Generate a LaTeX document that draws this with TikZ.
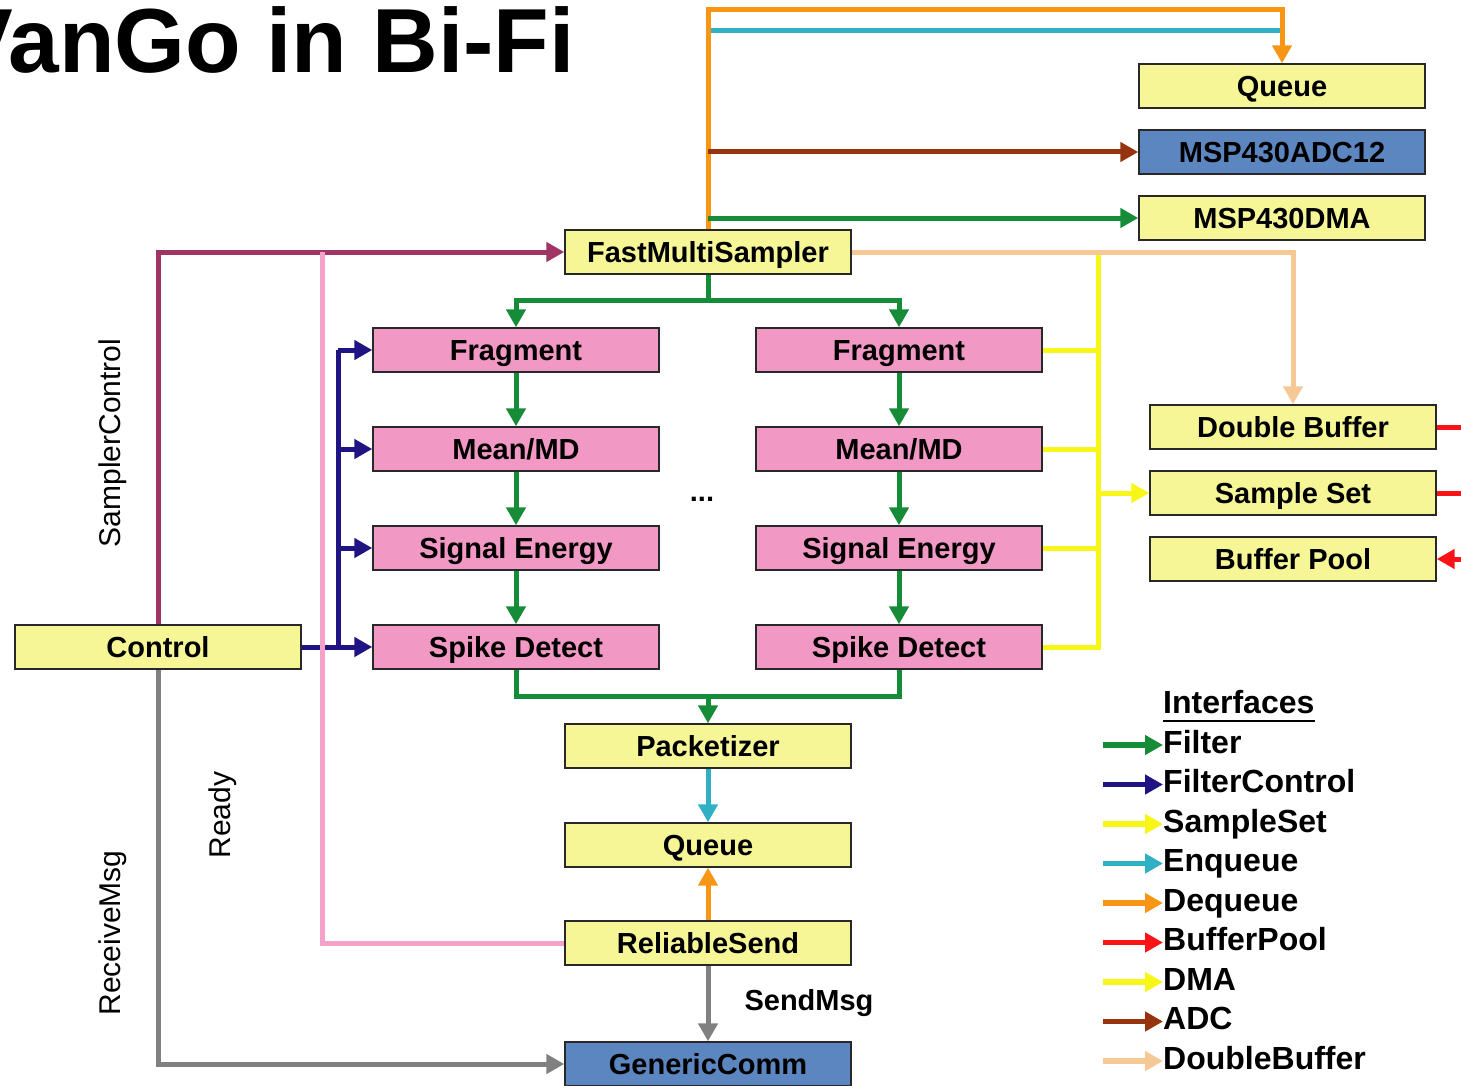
\documentclass[tikz,border=0pt]{standalone}
\usepackage{fontspec}
\setmainfont{Liberation Sans}
\usetikzlibrary{arrows.meta}

\definecolor{boxyellow}{RGB}{246,246,150}
\definecolor{boxpink}{RGB}{242,152,196}
\definecolor{boxblue}{RGB}{92,134,192}
\definecolor{boxline}{RGB}{40,40,40}
\definecolor{cfilter}{RGB}{22,140,56}
\definecolor{cfctrl}{RGB}{32,20,132}
\definecolor{csample}{RGB}{248,246,22}
\definecolor{cenq}{RGB}{48,176,196}
\definecolor{cdeq}{RGB}{246,150,20}
\definecolor{cpool}{RGB}{250,20,24}
\definecolor{cadc}{RGB}{150,52,16}
\definecolor{cdbuf}{RGB}{245,200,150}
\definecolor{csctrl}{RGB}{160,52,100}
\definecolor{cready}{RGB}{246,162,200}
\definecolor{cmsg}{RGB}{128,128,128}

\begin{document}
\begin{tikzpicture}[x=1pt,y=-1pt,
  box/.style={draw=boxline, line width=1.4pt, minimum width=286pt,
    minimum height=44pt, inner sep=0pt, text height=21pt, text depth=0pt,
    font=\bfseries\fontsize{29}{34}\selectfont},
  ybox/.style={box, fill=boxyellow},
  pbox/.style={box, fill=boxpink},
  bbox/.style={box, fill=boxblue},
  wire/.style={line width=5pt},
  tip/.style={-{Triangle[length=18pt,width=19pt]}},
  vlabel/.style={rotate=90, inner sep=0pt, font=\fontsize{30}{36}\selectfont},
  legtext/.style={anchor=base west, inner sep=0pt,
    font=\bfseries\fontsize{32}{38}\selectfont},
]
\useasboundingbox (0,0) rectangle (1461,1086);
\clip (0,0) rectangle (1461,1086);

% title
\node[anchor=base east, inner sep=0pt, font=\bfseries\fontsize{91}{100}\selectfont]
  (title) at (575,73) {VanGo in Bi-Fi};

% components
\node[ybox] (q1)   at (1282,86)  {Queue};
\node[bbox] (adc)  at (1282,152) {MSP430ADC12};
\node[ybox] (dma)  at (1282,218) {MSP430DMA};
\node[ybox] (fms)  at (708,252)  {FastMultiSampler};

\node[pbox] (fragL)  at (516,350) {Fragment};
\node[pbox] (meanL)  at (516,449) {Mean/MD};
\node[pbox] (sigL)   at (516,548) {Signal Energy};
\node[pbox] (spikeL) at (516,647) {Spike Detect};
\node[pbox] (fragR)  at (899,350) {Fragment};
\node[pbox] (meanR)  at (899,449) {Mean/MD};
\node[pbox] (sigR)   at (899,548) {Signal Energy};
\node[pbox] (spikeR) at (899,647) {Spike Detect};

\node[ybox] (dbuf)  at (1293,427) {Double Buffer};
\node[ybox] (sset)  at (1293,493) {Sample Set};
\node[ybox] (pool)  at (1293,559) {Buffer Pool};

\node[ybox] (ctrl) at (158,647)  {Control};
\node[ybox] (pkt)  at (708,746)  {Packetizer};
\node[ybox] (q2)   at (708,845)  {Queue};
\node[ybox] (rs)   at (708,943)  {ReliableSend};
\node[bbox] (gc)   at (708,1064) {GenericComm};

\node[font=\bfseries\fontsize{29}{34}\selectfont, inner sep=0pt] (dots) at (702,499) {...};

% junction points
\coordinate (qtop)   at (708,10);
\coordinate (enqrow) at (708,31);
\coordinate (gsplit) at (708,300);
\coordinate (gmerge) at (708,696);
\coordinate (fcbus)  at (338,647);
\coordinate (ybus)   at (1098,252);
\coordinate (rjoin)  at (322,252);
\coordinate (redge)  at (1475,0);

% sampler outputs
\draw[wire, cenq] (enqrow) -- (enqrow -| q1.north);
\draw[wire, cdeq, tip] (fms.north) -- (qtop) -| (q1.north);
\draw[wire, cadc, tip] (fms.north |- adc.west) -- (adc.west);
\draw[wire, cfilter, tip] (fms.north |- dma.west) -- (dma.west);

% filter chains
\draw[wire, cfilter] (fms.south) -- (gsplit);
\draw[wire, cfilter, tip] (gsplit) -| (fragL.north);
\draw[wire, cfilter, tip] (gsplit) -| (fragR.north);
\foreach \a/\b in {fragL/meanL, meanL/sigL, sigL/spikeL,
                   fragR/meanR, meanR/sigR, sigR/spikeR}
  \draw[wire, cfilter, tip] (\a) -- (\b);
\draw[wire, cfilter] (spikeL.south) |- (gmerge) -| (spikeR.south);
\draw[wire, cfilter, tip] (gmerge) -- (pkt.north);

% filter control bus
\draw[wire, cfctrl, tip] (ctrl.east) -- (spikeL.west);
\draw[wire, cfctrl] (fcbus) -- (fcbus |- fragL.west);
\foreach \n in {fragL, meanL, sigL}
  \draw[wire, cfctrl, tip] (fcbus |- \n.west) -- (\n.west);

% sample set bus
\draw[wire, csample] (ybus) -- (ybus |- spikeR.east) -- (spikeR.east);
\foreach \n in {fragR, meanR, sigR}
  \draw[wire, csample] (\n.east) -- (\n.east -| ybus);
\draw[wire, csample, tip] (ybus |- sset.west) -- (sset.west);

% double buffer
\draw[wire, cdbuf, tip] (fms.east) -| (dbuf.north);

% buffer pool links
\draw[wire, cpool] (dbuf.east) -- (dbuf.east -| redge);
\draw[wire, cpool] (sset.east) -- (sset.east -| redge);
\draw[wire, cpool, tip] (pool.east -| redge) -- (pool.east);

% control links
\draw[wire, csctrl, tip] (ctrl.north) |- (fms.west);
\draw[wire, cready] (rs.west) -| (rjoin);
\draw[wire, cmsg, tip] (ctrl.south) |- (gc.west);

% send path
\draw[wire, cenq, tip] (pkt.south) -- (q2.north);
\draw[wire, cdeq, tip] (rs.north) -- (q2.south);
\draw[wire, cmsg, tip] (rs.south) -- (gc.north);

% interface labels
\node[vlabel] (lsc)  at (113,443) {SamplerControl};
\node[vlabel] (lrdy) at (223,815) {Ready};
\node[vlabel] (lrcv) at (113,933) {ReceiveMsg};
\node[inner sep=0pt, font=\bfseries\fontsize{29}{34}\selectfont] (lsend) at (809,1003) {SendMsg};

% legend
\node[legtext] (leghead) at (1163,713) {Interfaces};
\draw[line width=2.6pt] ([yshift=-8pt]leghead.base west) -- ([yshift=-8pt]leghead.base east);
\foreach \i/\c/\t in {0/cfilter/Filter, 1/cfctrl/FilterControl, 2/csample/SampleSet,
                      3/cenq/Enqueue, 4/cdeq/Dequeue, 5/cpool/BufferPool,
                      6/csample/DMA, 7/cadc/ADC, 8/cdbuf/DoubleBuffer} {
  \coordinate (legs\i) at (1103,745+39.5*\i);
  \node[legtext] (leg\i) at (1163,753+39.5*\i) {\t};
  \draw[line width=5.5pt, tip, \c] (legs\i) -- (legs\i -| leg\i.west);
}
\end{tikzpicture}
\end{document}
